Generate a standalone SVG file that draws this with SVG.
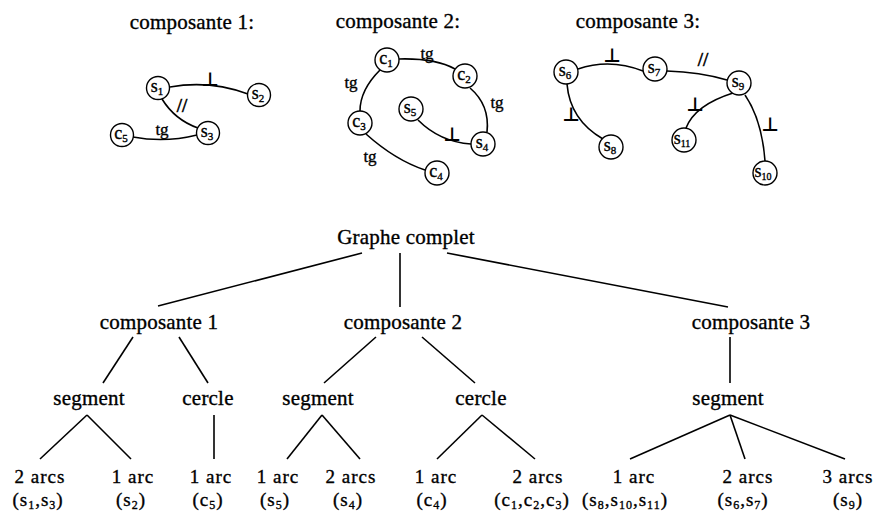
<svg xmlns="http://www.w3.org/2000/svg" width="875" height="520" viewBox="0 0 875 520">
<style>
.t{font-family:"Liberation Serif","Times New Roman",serif;font-size:21px;letter-spacing:0.2px;fill:#000;stroke:#000;stroke-width:0.35px;text-anchor:middle}
.b{font-size:19px;letter-spacing:1px}
.nl{font-family:"Liberation Serif","Times New Roman",serif;font-size:18px;fill:#000;stroke:#000;stroke-width:0.35px;text-anchor:middle}
.lb{font-family:"Liberation Serif","Times New Roman",serif;font-size:17px;fill:#000;stroke:#000;stroke-width:0.35px;text-anchor:middle}
.sl{font-size:19px;stroke-width:0.6px}
.perp{font-family:"DejaVu Sans",sans-serif;font-size:19px;font-weight:bold;fill:#000;text-anchor:middle}
.nd{fill:#fff;stroke:#000;stroke-width:1.4}
.e{fill:none;stroke:#000;stroke-width:1.6}
.tl{fill:none;stroke:#000;stroke-width:1.6}
</style>
<rect width="875" height="520" fill="#fff"/>

<!-- titles -->
<text class="t" x="192" y="29">composante 1:</text>
<text class="t" x="398" y="28">composante 2:</text>
<text class="t" x="638" y="28">composante 3:</text>

<!-- component graph edges -->
<g id="graph-edges">
<path class="e" d="M170,87 Q210,80 248,94"/>
<path class="e" d="M162,99 Q175,120 198,128"/>
<path class="e" d="M133,137 Q165,143 197,135"/>
<path class="e" d="M399,59 Q435,58 455,69"/>
<path class="e" d="M380,70 Q360,90 360,111"/>
<path class="e" d="M470,88 Q490,105 487,132"/>
<path class="e" d="M366,134 Q395,160 425,170"/>
<path class="e" d="M418,120 Q440,142 471,144"/>
<path class="e" d="M578,69 Q610,58 643,71"/>
<path class="e" d="M667,71 Q700,72 727,80"/>
<path class="e" d="M567,84 Q570,120 603,139"/>
<path class="e" d="M733,93 Q695,105 686,128"/>
<path class="e" d="M745,95 Q762,120 765,161"/>
</g>

<!-- edge labels -->
<g id="edge-labels">
<text class="perp" x="210" y="86">⊥</text>
<text class="lb sl" x="182" y="112">//</text>
<text class="lb" x="162" y="135">tg</text>
<text class="lb" x="427" y="59">tg</text>
<text class="lb" x="351" y="88">tg</text>
<text class="lb" x="497" y="108">tg</text>
<text class="lb" x="370" y="162">tg</text>
<text class="perp" x="452" y="141">⊥</text>
<text class="perp" x="612" y="62">⊥</text>
<text class="lb sl" x="703" y="66">//</text>
<text class="perp" x="571" y="121">⊥</text>
<text class="perp" x="695" y="111">⊥</text>
<text class="perp" x="770" y="131">⊥</text>
</g>

<!-- component graph nodes -->
<g id="n-s1"><circle class="nd" cx="158" cy="88" r="11.5"/><text class="nl" x="157" y="92">s<tspan font-size="11" dy="3">1</tspan></text></g>
<g id="n-s2"><circle class="nd" cx="259" cy="95" r="11.5"/><text class="nl" x="258" y="99">s<tspan font-size="11" dy="3">2</tspan></text></g>
<g id="n-s3"><circle class="nd" cx="208" cy="133" r="11.5"/><text class="nl" x="207" y="137">s<tspan font-size="11" dy="3">3</tspan></text></g>
<g id="n-c5"><circle class="nd" cx="122" cy="135" r="11.5"/><text class="nl" x="121" y="139">c<tspan font-size="11" dy="3">5</tspan></text></g>

<g id="n-c1"><circle class="nd" cx="387" cy="60" r="12"/><text class="nl" x="386" y="64">c<tspan font-size="11" dy="3">1</tspan></text></g>
<g id="n-c2"><circle class="nd" cx="465" cy="76" r="12"/><text class="nl" x="464" y="80">c<tspan font-size="11" dy="3">2</tspan></text></g>
<g id="n-c3"><circle class="nd" cx="360" cy="123" r="12"/><text class="nl" x="359" y="127">c<tspan font-size="11" dy="3">3</tspan></text></g>
<g id="n-c4"><circle class="nd" cx="437" cy="173" r="12"/><text class="nl" x="436" y="177">c<tspan font-size="11" dy="3">4</tspan></text></g>
<g id="n-s5"><circle class="nd" cx="411" cy="109" r="12"/><text class="nl" x="410" y="113">s<tspan font-size="11" dy="3">5</tspan></text></g>
<g id="n-s4"><circle class="nd" cx="483" cy="144" r="12"/><text class="nl" x="482" y="148">s<tspan font-size="11" dy="3">4</tspan></text></g>

<g id="n-s6"><circle class="nd" cx="566" cy="72" r="12"/><text class="nl" x="565" y="76">s<tspan font-size="11" dy="3">6</tspan></text></g>
<g id="n-s7"><circle class="nd" cx="655" cy="69" r="12"/><text class="nl" x="654" y="73">s<tspan font-size="11" dy="3">7</tspan></text></g>
<g id="n-s9"><circle class="nd" cx="739" cy="83" r="12"/><text class="nl" x="738" y="87">s<tspan font-size="11" dy="3">9</tspan></text></g>
<g id="n-s8"><circle class="nd" cx="611" cy="147" r="12"/><text class="nl" x="610" y="151">s<tspan font-size="11" dy="3">8</tspan></text></g>
<g id="n-s11"><circle class="nd" cx="684" cy="140" r="12"/><text class="nl" x="682" y="144">s<tspan font-size="10" dy="3">11</tspan></text></g>
<g id="n-s10"><circle class="nd" cx="765" cy="173" r="12"/><text class="nl" x="763" y="177">s<tspan font-size="10" dy="3">10</tspan></text></g>

<!-- tree connectors -->
<g id="tree-connectors">
<line class="tl" x1="362" y1="253" x2="158" y2="306"/>
<line class="tl" x1="400" y1="253" x2="400" y2="307"/>
<line class="tl" x1="447" y1="253" x2="728" y2="307"/>
<line class="tl" x1="133" y1="337" x2="103" y2="383"/>
<line class="tl" x1="179" y1="337" x2="208" y2="383"/>
<line class="tl" x1="376" y1="337" x2="324" y2="383"/>
<line class="tl" x1="422" y1="337" x2="475" y2="383"/>
<line class="tl" x1="730" y1="337" x2="730" y2="383"/>
<line class="tl" x1="87" y1="415" x2="40" y2="459"/>
<line class="tl" x1="87" y1="415" x2="131" y2="459"/>
<line class="tl" x1="214" y1="415" x2="214" y2="459"/>
<line class="tl" x1="322" y1="415" x2="287" y2="459"/>
<line class="tl" x1="322" y1="415" x2="360" y2="459"/>
<line class="tl" x1="482" y1="415" x2="437" y2="459"/>
<line class="tl" x1="482" y1="415" x2="535" y2="459"/>
<line class="tl" x1="730" y1="415" x2="630" y2="459"/>
<line class="tl" x1="730" y1="415" x2="745" y2="459"/>
<line class="tl" x1="730" y1="415" x2="845" y2="459"/>
</g>

<!-- tree nodes -->
<g id="t-root"><text class="t" x="406" y="244">Graphe complet</text></g>
<g id="t-comp1"><text class="t" x="159" y="329">composante 1</text></g>
<g id="t-comp2"><text class="t" x="403" y="329">composante 2</text></g>
<g id="t-comp3"><text class="t" x="751" y="329">composante 3</text></g>
<g id="t-seg1"><text class="t" x="89" y="405">segment</text></g>
<g id="t-cer1"><text class="t" x="208" y="405">cercle</text></g>
<g id="t-seg2"><text class="t" x="318" y="405">segment</text></g>
<g id="t-cer2"><text class="t" x="481" y="405">cercle</text></g>
<g id="t-seg3"><text class="t" x="728" y="405">segment</text></g>

<g id="t-l1"><text class="t b" x="40" y="483">2 arcs</text><text class="t b" x="38" y="506">(s<tspan font-size="12" dy="3">1</tspan><tspan dy="-3">,s</tspan><tspan font-size="12" dy="3">3</tspan><tspan dy="-3">)</tspan></text></g>
<g id="t-l2"><text class="t b" x="133" y="483">1 arc</text><text class="t b" x="131" y="506">(s<tspan font-size="12" dy="3">2</tspan><tspan dy="-3">)</tspan></text></g>
<g id="t-l3"><text class="t b" x="211" y="483">1 arc</text><text class="t b" x="208" y="506">(c<tspan font-size="12" dy="3">5</tspan><tspan dy="-3">)</tspan></text></g>
<g id="t-l4"><text class="t b" x="278" y="483">1 arc</text><text class="t b" x="275" y="506">(s<tspan font-size="12" dy="3">5</tspan><tspan dy="-3">)</tspan></text></g>
<g id="t-l5"><text class="t b" x="351" y="483">2 arcs</text><text class="t b" x="348" y="506">(s<tspan font-size="12" dy="3">4</tspan><tspan dy="-3">)</tspan></text></g>
<g id="t-l6"><text class="t b" x="436" y="483">1 arc</text><text class="t b" x="432" y="506">(c<tspan font-size="12" dy="3">4</tspan><tspan dy="-3">)</tspan></text></g>
<g id="t-l7"><text class="t b" x="538" y="483">2 arcs</text><text class="t b" x="532" y="506">(c<tspan font-size="12" dy="3">1</tspan><tspan dy="-3">,c</tspan><tspan font-size="12" dy="3">2</tspan><tspan dy="-3">,c</tspan><tspan font-size="12" dy="3">3</tspan><tspan dy="-3">)</tspan></text></g>
<g id="t-l8"><text class="t b" x="634" y="483">1 arc</text><text class="t b" x="625" y="506">(s<tspan font-size="12" dy="3">8</tspan><tspan dy="-3">,s</tspan><tspan font-size="12" dy="3">10</tspan><tspan dy="-3">,s</tspan><tspan font-size="12" dy="3">11</tspan><tspan dy="-3">)</tspan></text></g>
<g id="t-l9"><text class="t b" x="748" y="483">2 arcs</text><text class="t b" x="743" y="506">(s<tspan font-size="12" dy="3">6</tspan><tspan dy="-3">,s</tspan><tspan font-size="12" dy="3">7</tspan><tspan dy="-3">)</tspan></text></g>
<g id="t-l10"><text class="t b" x="848" y="483">3 arcs</text><text class="t b" x="848" y="506">(s<tspan font-size="12" dy="3">9</tspan><tspan dy="-3">)</tspan></text></g>
</svg>
